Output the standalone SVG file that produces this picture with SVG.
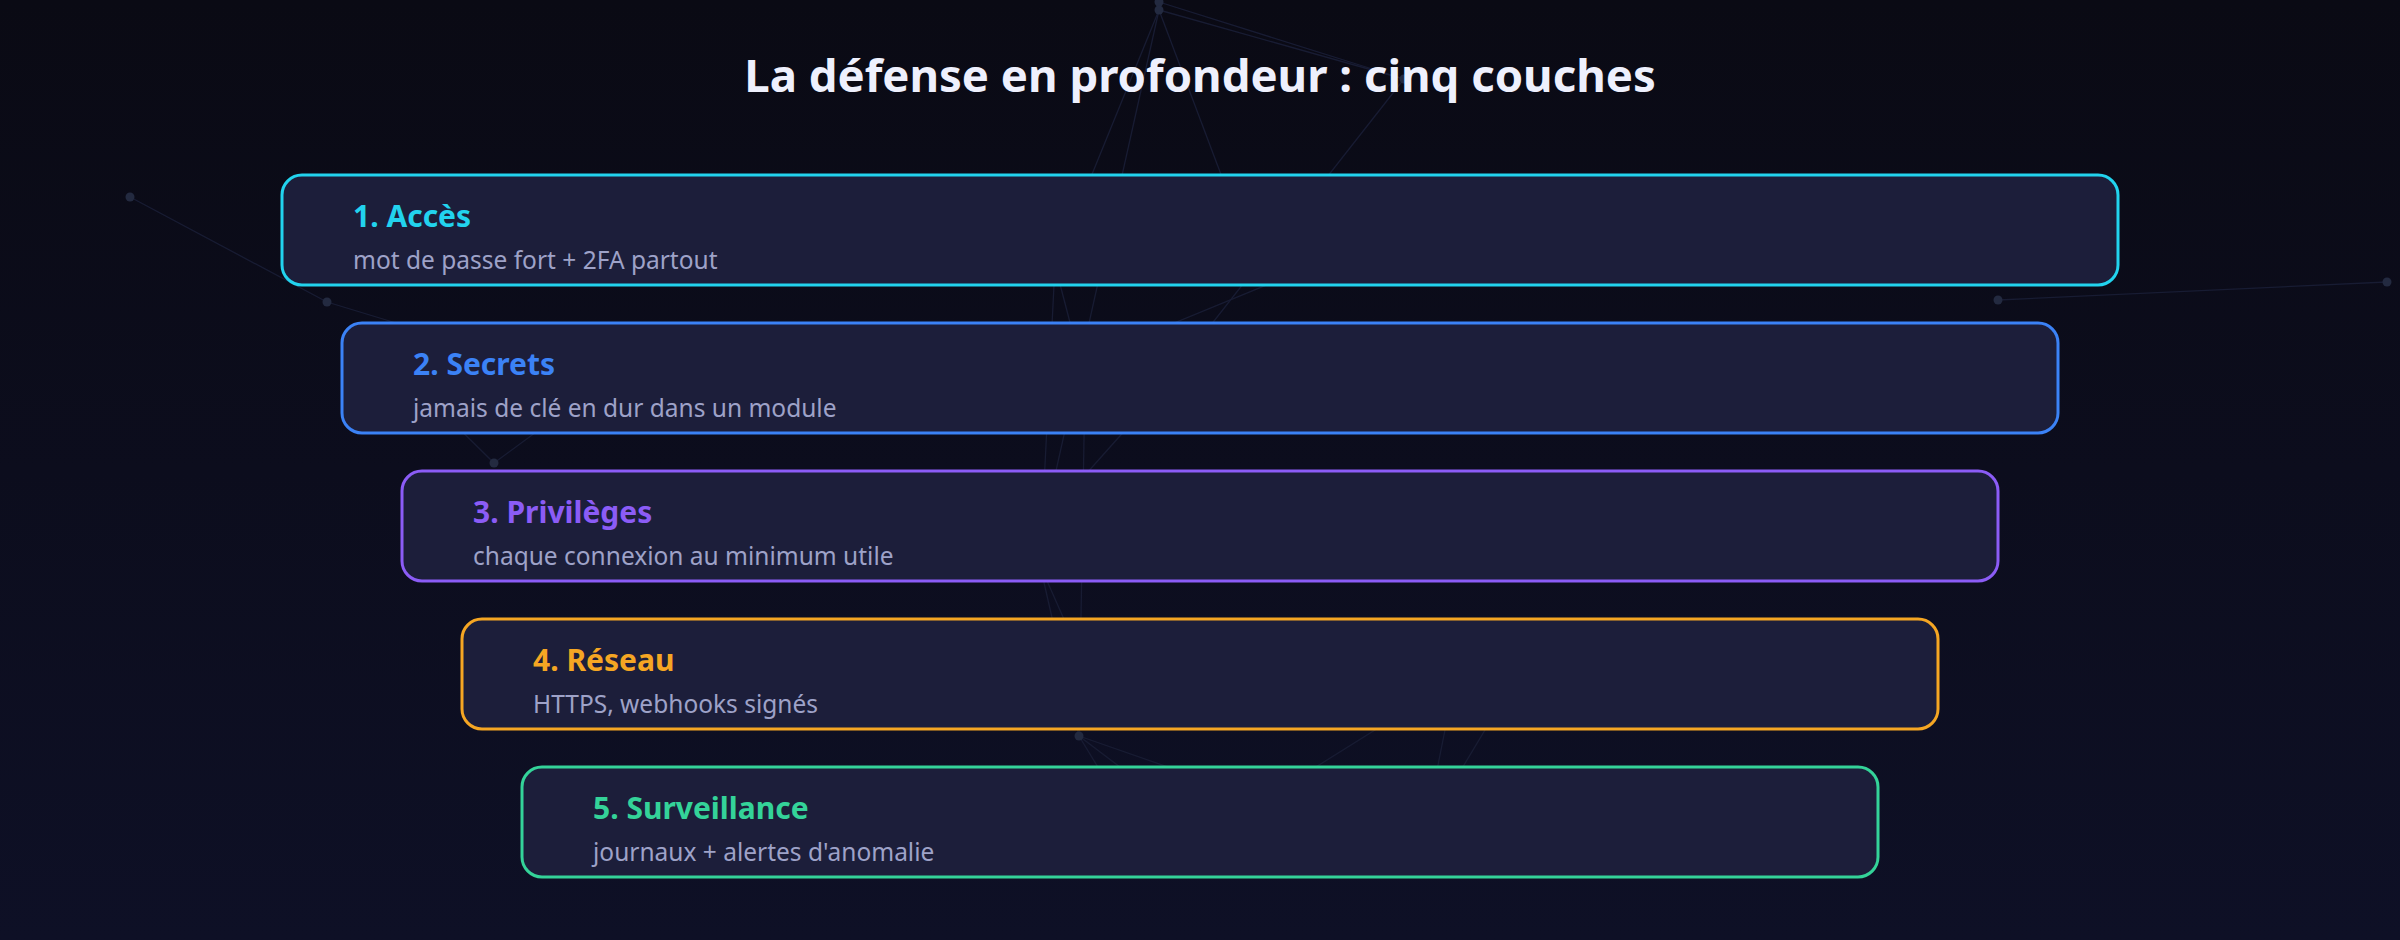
<svg xmlns="http://www.w3.org/2000/svg" width="2400" height="940" viewBox="0 0 2400 940">
  <defs>
    <linearGradient id="bg" x1="0" y1="0" x2="0" y2="1">
      <stop offset="0" stop-color="#0a0a14"/>
      <stop offset="1" stop-color="#0e1026"/>
    </linearGradient>
  </defs>
  <style>
    .net line { stroke: #181c33; stroke-width: 1.3; }
    .net circle { fill: #232a40; }
    .layer rect { fill: #1c1e3a; stroke-width: 3; }
    .title { font-family: "Segoe UI", "Noto Sans", "Open Sans", sans-serif; font-weight: 700; font-size: 45.5px; fill: #eef0fd; }
    .head { font-family: "Segoe UI", "Noto Sans", "Open Sans", sans-serif; font-weight: 700; font-size: 30px; }
    .sub { font-family: "Segoe UI", "Noto Sans", "Open Sans", sans-serif; font-size: 24.5px; fill: #9ea2c8; }
  </style>
  <rect x="0" y="0" width="2400" height="940" fill="url(#bg)"/>

  <g id="background-network" class="net">
    <line x1="1159" y1="2" x2="1404" y2="79"/>
    <line x1="1159" y1="10" x2="1404" y2="79"/>
    <line x1="1159" y1="2" x2="1159" y2="10"/>
    <line x1="1159" y1="10" x2="1055" y2="265"/>
    <line x1="1159" y1="10" x2="1045" y2="520"/>
    <line x1="1159" y1="10" x2="1257" y2="270"/>
    <line x1="1404" y1="79" x2="1152" y2="400"/>
    <line x1="1152" y1="400" x2="1045" y2="520"/>
    <line x1="1303" y1="270" x2="1060" y2="370"/>
    <line x1="1055" y1="265" x2="1040" y2="565"/>
    <line x1="1055" y1="265" x2="1085" y2="380"/>
    <line x1="1085" y1="380" x2="1079" y2="736"/>
    <line x1="1040" y1="565" x2="1079" y2="736"/>
    <line x1="1040" y1="565" x2="1105" y2="712"/>
    <line x1="1079" y1="736" x2="1130" y2="820"/>
    <line x1="1079" y1="736" x2="1190" y2="820"/>
    <line x1="1079" y1="736" x2="1320" y2="820"/>
    <line x1="1455" y1="680" x2="1231" y2="820"/>
    <line x1="1455" y1="680" x2="1425" y2="830"/>
    <line x1="1515" y1="680" x2="1425" y2="830"/>
    <line x1="130" y1="197" x2="327" y2="302"/>
    <line x1="327" y1="302" x2="600" y2="385"/>
    <line x1="494" y1="463" x2="430" y2="400"/>
    <line x1="494" y1="463" x2="600" y2="385"/>
    <line x1="1998" y1="300" x2="2387" y2="282"/>
    <circle cx="1159" cy="2" r="4.5"/>
    <circle cx="1159" cy="10" r="4.5"/>
    <circle cx="1404" cy="79" r="4.5"/>
    <circle cx="130" cy="197" r="4.5"/>
    <circle cx="327" cy="302" r="4.5"/>
    <circle cx="494" cy="463" r="4.5"/>
    <circle cx="1998" cy="300" r="4.5"/>
    <circle cx="2387" cy="282" r="4.5"/>
    <circle cx="1079" cy="736" r="4.5"/>
  </g>

  <text class="title" x="1200" y="92" text-anchor="middle">La défense en profondeur : cinq couches</text>

  <g id="connectors"></g>

  <g id="layer-1" class="layer">
    <rect x="282" y="175" width="1836" height="110" rx="20" stroke="#22d3ee"/>
    <text class="head" x="353" y="227" fill="#22d3ee">1. Accès</text>
    <text class="sub" x="353" y="269">mot de passe fort + 2FA partout</text>
  </g>
  <g id="layer-2" class="layer">
    <rect x="342" y="323" width="1716" height="110" rx="20" stroke="#3b82f6"/>
    <text class="head" x="413" y="375" fill="#3b82f6">2. Secrets</text>
    <text class="sub" x="413" y="417">jamais de clé en dur dans un module</text>
  </g>
  <g id="layer-3" class="layer">
    <rect x="402" y="471" width="1596" height="110" rx="20" stroke="#8b5cf6"/>
    <text class="head" x="473" y="523" fill="#8b5cf6">3. Privilèges</text>
    <text class="sub" x="473" y="565">chaque connexion au minimum utile</text>
  </g>
  <g id="layer-4" class="layer">
    <rect x="462" y="619" width="1476" height="110" rx="20" stroke="#f5a623"/>
    <text class="head" x="533" y="671" fill="#f5a623">4. Réseau</text>
    <text class="sub" x="533" y="713">HTTPS, webhooks signés</text>
  </g>
  <g id="layer-5" class="layer">
    <rect x="522" y="767" width="1356" height="110" rx="20" stroke="#34d399"/>
    <text class="head" x="593" y="819" fill="#34d399">5. Surveillance</text>
    <text class="sub" x="593" y="861">journaux + alertes d'anomalie</text>
  </g>
</svg>
